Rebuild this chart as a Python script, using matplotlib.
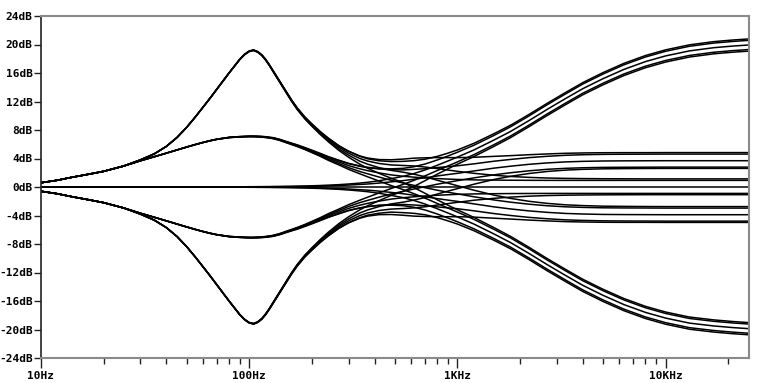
import numpy as np
import matplotlib
matplotlib.use('Agg')
import matplotlib.pyplot as plt
from matplotlib.ticker import LogLocator, NullFormatter

# frequency points (Hz) the curves were read at
freq = [10, 12, 14, 17, 20, 25, 30, 35, 40, 45,
        50, 55, 60, 65, 70, 80, 90, 95, 100, 105,
        110, 115, 120, 125, 130, 140, 150, 160, 170, 185,
        200, 220, 240, 270, 300, 340, 370, 420, 480, 550,
        620, 700, 800, 900, 1000, 1200, 1500, 1800, 2200, 2700,
        3300, 4000, 5000, 6300, 8000, 10000, 13000, 17000, 21000, 25000]

# bass sweep, treble at centre / mid settings (dB)
bass_p19 = [0.6, 0.95, 1.35, 1.8, 2.2, 2.95, 3.8, 4.65, 5.7, 6.95,
            8.35, 9.8, 11.2, 12.5, 13.75, 16.0, 17.9, 18.6, 19.05, 19.2,
            18.95, 18.5, 17.85, 17.1, 16.3, 14.8, 13.4, 12.1, 11.0, 9.7,
            8.7, 7.55, 6.65, 5.55, 4.75, 4.0, 3.65, 3.3, 3.1, 3.02,
            2.95, 2.8, 2.58, 2.38, 2.2, 1.92, 1.65, 1.48, 1.35, 1.26,
            1.21, 1.18, 1.16, 1.15, 1.14, 1.14, 1.14, 1.14, 1.14, 1.14]
bass_p7 = [0.6, 0.95, 1.35, 1.8, 2.2, 2.95, 3.68, 4.25, 4.75, 5.2,
           5.6, 5.95, 6.25, 6.5, 6.7, 6.95, 7.05, 7.08, 7.1, 7.1,
           7.08, 7.05, 7.0, 6.93, 6.86, 6.62, 6.32, 6.05, 5.8, 5.4,
           5.0, 4.5, 4.05, 3.5, 3.0, 2.55, 2.3, 1.98, 1.7, 1.5,
           1.38, 1.27, 1.18, 1.11, 1.06, 1.0, 0.97, 0.95, 0.94, 0.93,
           0.93, 0.93, 0.93, 0.93, 0.93, 0.93, 0.93, 0.93, 0.93, 0.93]
bass_0 = [0.0] * 60
bass_m7 = [-0.6, -0.95, -1.35, -1.8, -2.2, -2.95, -3.68, -4.25, -4.75, -5.2,
           -5.6, -5.95, -6.25, -6.5, -6.7, -6.95, -7.05, -7.08, -7.1, -7.1,
           -7.08, -7.05, -7.0, -6.93, -6.86, -6.62, -6.32, -6.05, -5.8, -5.4,
           -5.0, -4.5, -4.05, -3.5, -3.0, -2.55, -2.3, -1.98, -1.7, -1.5,
           -1.37, -1.26, -1.16, -1.09, -1.03, -0.97, -0.94, -0.92, -0.91, -0.9,
           -0.9, -0.9, -0.9, -0.9, -0.9, -0.9, -0.9, -0.9, -0.9, -0.9]
bass_m19 = [-0.6, -0.95, -1.35, -1.8, -2.2, -2.95, -3.8, -4.65, -5.7, -6.95,
            -8.35, -9.8, -11.2, -12.5, -13.75, -16.0, -17.9, -18.6, -19.05, -19.2,
            -18.95, -18.5, -17.85, -17.1, -16.3, -14.8, -13.4, -12.1, -11.0, -9.7,
            -8.7, -7.55, -6.65, -5.55, -4.75, -4.0, -3.65, -3.3, -3.1, -3.02,
            -2.93, -2.77, -2.54, -2.33, -2.15, -1.86, -1.59, -1.42, -1.29, -1.2,
            -1.15, -1.12, -1.1, -1.09, -1.08, -1.08, -1.08, -1.08, -1.08, -1.08]

# same bass sweep when treble is at either end (the boost fades out earlier)
bass_p19_ext = bass_p19[:30] + [
    8.7, 7.55, 6.6, 5.45, 4.6, 3.75, 3.3, 2.8, 2.4, 2.1,
    1.8, 1.5, 1.25, 1.1, 1.0, 0.93, 0.89, 0.87, 0.86, 0.85,
    0.85, 0.85, 0.85, 0.85, 0.85, 0.85, 0.85, 0.85, 0.85, 0.85]
bass_p7_ext = bass_p7[:30] + [
    5.0, 4.5, 4.0, 3.42, 2.9, 2.4, 2.1, 1.72, 1.38, 1.12,
    0.95, 0.83, 0.74, 0.7, 0.68, 0.66, 0.65, 0.65, 0.65, 0.65,
    0.65, 0.65, 0.65, 0.65, 0.65, 0.65, 0.65, 0.65, 0.65, 0.65]
bass_m7_ext = bass_m7[:30] + [
    -5.0, -4.5, -4.0, -3.42, -2.9, -2.4, -2.1, -1.72, -1.38, -1.12,
    -0.95, -0.83, -0.74, -0.7, -0.68, -0.66, -0.65, -0.64, -0.64, -0.64,
    -0.64, -0.64, -0.64, -0.64, -0.64, -0.64, -0.64, -0.64, -0.64, -0.64]
bass_m19_ext = bass_m19[:30] + [
    -8.7, -7.55, -6.6, -5.45, -4.6, -3.75, -3.3, -2.8, -2.35, -2.1,
    -1.8, -1.5, -1.25, -1.1, -1.0, -0.93, -0.89, -0.87, -0.86, -0.86,
    -0.86, -0.86, -0.86, -0.86, -0.86, -0.86, -0.86, -0.86, -0.86, -0.86]

# treble sweep, bass at centre (dB)
treble_pmax = [0, 0, 0, 0, 0, 0, 0, 0, 0, 0,
               0.01, 0.01, 0.01, 0.02, 0.02, 0.02, 0.03, 0.03, 0.04, 0.04,
               0.05, 0.05, 0.06, 0.06, 0.07, 0.08, 0.09, 0.1, 0.12, 0.14,
               0.17, 0.21, 0.26, 0.33, 0.42, 0.55, 0.66, 0.88, 1.17, 1.5,
               1.9, 2.4, 3.05, 3.65, 4.2, 5.2, 6.6, 7.8, 9.3, 10.9,
               12.4, 13.8, 15.2, 16.5, 17.6, 18.4, 19.1, 19.55, 19.78, 19.93]
treble_pmid = [0, 0, 0, 0, 0, 0, 0, 0, 0, 0,
               0, 0, 0.01, 0.01, 0.01, 0.01, 0.02, 0.02, 0.02, 0.02,
               0.03, 0.03, 0.03, 0.03, 0.04, 0.04, 0.05, 0.06, 0.07, 0.08,
               0.1, 0.12, 0.16, 0.21, 0.27, 0.36, 0.42, 0.55, 0.72, 0.9,
               1.1, 1.3, 1.55, 1.75, 1.92, 2.25, 2.65, 2.92, 3.18, 3.38,
               3.52, 3.6, 3.65, 3.67, 3.68, 3.69, 3.69, 3.69, 3.69, 3.69]
treble_0 = [0.0] * 60
treble_mmid = [0, 0, 0, 0, 0, 0, 0, 0, 0, 0,
               0, 0, -0.01, -0.01, -0.01, -0.01, -0.02, -0.02, -0.02, -0.02,
               -0.03, -0.03, -0.03, -0.03, -0.04, -0.04, -0.05, -0.06, -0.07, -0.08,
               -0.11, -0.13, -0.17, -0.22, -0.28, -0.38, -0.44, -0.58, -0.76, -0.95,
               -1.16, -1.37, -1.63, -1.84, -2.02, -2.37, -2.79, -3.08, -3.35, -3.56,
               -3.71, -3.79, -3.85, -3.87, -3.88, -3.89, -3.89, -3.89, -3.89, -3.89]
treble_mmax = [0, 0, 0, 0, 0, 0, 0, 0, 0, 0,
               -0.01, -0.01, -0.01, -0.02, -0.02, -0.02, -0.03, -0.03, -0.04, -0.04,
               -0.05, -0.05, -0.06, -0.06, -0.07, -0.08, -0.09, -0.1, -0.12, -0.14,
               -0.17, -0.21, -0.26, -0.33, -0.42, -0.55, -0.66, -0.88, -1.17, -1.5,
               -1.9, -2.4, -3.05, -3.65, -4.2, -5.2, -6.6, -7.8, -9.3, -10.9,
               -12.4, -13.8, -15.2, -16.5, -17.6, -18.4, -19.1, -19.5, -19.73, -19.88]

bass_mid = [bass_p19, bass_p7, bass_0, bass_m7, bass_m19]
bass_end = [bass_p19_ext, bass_p7_ext, bass_0, bass_m7_ext, bass_m19_ext]
treble_curves = [treble_pmax, treble_pmid, treble_0, treble_mmid, treble_mmax]

yticks = [24, 20, 16, 12, 8, 4, 0, -4, -8, -12, -16, -20, -24]
ytick_labels = ['24dB', '20dB', '16dB', '12dB', '8dB', '4dB', '0dB', '-4dB', '-8dB',
                '-12dB', '-16dB', '-20dB', '-24dB']
xticks = [10, 100, 1000, 10000]
xtick_labels = ['10Hz', '100Hz', '1KHz', '10KHz']

fig = plt.figure(figsize=(7.68, 3.83), dpi=100)
ax = fig.add_axes([41 / 768, 1 - 358 / 383, 707.5 / 768, 342 / 383])

f = np.array(freq)
for k in range(5):
    for j, t in enumerate(treble_curves):
        b = bass_end[k] if j in (0, 4) else bass_mid[k]
        ax.plot(f, np.array(b) + np.array(t), color='black', lw=1.1)

ax.set_xscale('log')
ax.set_xlim(10, 25000)
ax.set_ylim(-24, 24)

mono = {'family': 'DejaVu Sans Mono', 'weight': 'bold', 'size': 8}
ax.set_yticks(yticks)
ax.set_yticklabels(ytick_labels, fontdict=mono)
ax.set_xticks(xticks)
ax.set_xticklabels(xtick_labels, fontdict=mono)
ax.xaxis.set_minor_locator(LogLocator(base=10, subs=np.arange(2, 10)))
ax.xaxis.set_minor_formatter(NullFormatter())

ax.tick_params(axis='y', length=5, width=1, color='#222222', pad=1)
ax.tick_params(axis='x', which='major', length=7, width=1, color='#222222', pad=2.5)
ax.tick_params(axis='x', which='minor', length=4, width=1, color='#222222')

ax.spines['left'].set_color('#222222')
ax.spines['left'].set_linewidth(1.2)
for side in ['top', 'right', 'bottom']:
    ax.spines[side].set_color('#8a8a8a')
    ax.spines[side].set_linewidth(1.5)

fig.savefig('out.png', dpi=100)
